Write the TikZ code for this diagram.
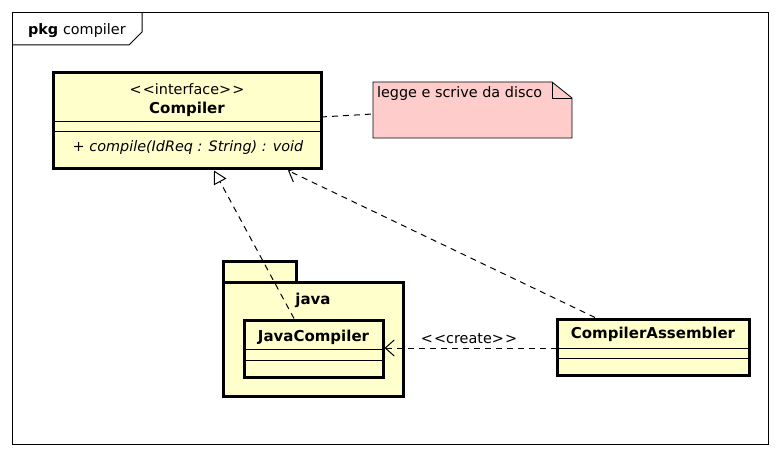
\documentclass[tikz,border=0pt]{standalone}
\usepackage{fontspec}
\setmainfont{DejaVu Sans}
\usetikzlibrary{arrows.meta}
\definecolor{classfill}{RGB}{255,255,204}
\definecolor{notefill}{RGB}{255,204,204}
\tikzset{
  classbox/.style={draw=black, line width=3pt, fill=classfill, inner sep=0pt, outer sep=0pt, anchor=north west},
  divider/.style={line width=1pt},
  txt/.style={inner sep=0pt, outer sep=0pt, anchor=base, font=\fontsize{14.4}{17}\selectfont},
  btxt/.style={txt, font=\fontsize{15}{18}\selectfont\bfseries},
  conn/.style={line width=1pt, dash pattern=on 6pt off 5pt},
  realize/.style={conn, -{Triangle[open, fill=white, length=13pt, width=14pt, line width=1pt]}},
  depend/.style={conn, -{Straight Barb[length=9pt, width=16pt, line width=1pt]}},
}
\begin{document}
\begin{tikzpicture}[x=1pt, y=-1pt]
\useasboundingbox (0,0) rectangle (782,457);
% frame
\draw[line width=1pt] (12,13) rectangle (768,444);
\draw[line width=1pt] (12,45) -- (129,45) -- (142,32) -- (142,13);
\node[txt, anchor=base west] (pkgkw) at (28,35) {\bfseries pkg};
\node[txt, anchor=base west] (pkgname) at (63,35) {compiler};

% Compiler interface
\node[classbox, minimum width=268pt, minimum height=96pt] (compiler) at (53,73) {};
\draw[divider] ([yshift=-49pt]compiler.north west) -- ([yshift=-49pt]compiler.north east);
\draw[divider] ([yshift=-59pt]compiler.north west) -- ([yshift=-59pt]compiler.north east);
\node[txt] (stereo) at (187,95) {{<}\kern1.2pt{<}interface{>}\kern1.2pt{>}};
\node[btxt] (compname) at (187,114) {Compiler};
\node[txt] (compop) at (188,152) {\itshape + compile(IdReq : String) : void};

% note
\node[inner sep=0pt, outer sep=0pt, minimum width=199pt, minimum height=56pt, anchor=north west] (note) at (373,82) {};
\coordinate (fold) at ([xshift=-20pt]note.north east);
\coordinate (foldb) at ([xshift=-20pt,yshift=-16pt]note.north east);
\coordinate (folde) at ([yshift=-16pt]note.north east);
\fill[notefill] (note.north west) -- (fold) -- (folde) -- (note.south east) -- (note.south west) -- cycle;
\draw[line width=0.8pt] (note.north west) -- (fold) -- (folde) -- (note.south east) -- (note.south west) -- cycle;
\draw[line width=0.8pt] (fold) -- (foldb) -- (folde);
\node[txt, anchor=base west] (notetext) at (377,98) {legge e scrive da disco};

% package java
\node[classbox, minimum width=73pt, minimum height=20pt] (javatab) at (223,262) {};
\node[classbox, minimum width=180pt, minimum height=114pt] (javapkg) at (223,282) {};
\node[btxt] (javalabel) at (313,305) {java};

% JavaCompiler
\node[classbox, minimum width=139pt, minimum height=57pt] (javacomp) at (244,320) {};
\draw[divider] ([yshift=-29pt]javacomp.north west) -- ([yshift=-29pt]javacomp.north east);
\draw[divider] ([yshift=-40pt]javacomp.north west) -- ([yshift=-40pt]javacomp.north east);
\node[btxt] (javacompname) at (313.5,341) {JavaCompiler};

% CompilerAssembler
\node[classbox, minimum width=192pt, minimum height=56pt] (assembler) at (557,319) {};
\draw[divider] ([yshift=-29pt]assembler.north west) -- ([yshift=-29pt]assembler.north east);
\draw[divider] ([yshift=-39pt]assembler.north west) -- ([yshift=-39pt]assembler.north east);
\node[btxt] (assemblername) at (653,338) {CompilerAssembler};

% connectors
\draw[conn] ([yshift=-44pt]compiler.north east) -- ([yshift=-32pt]note.north west);
\draw[realize] ([xshift=50pt,yshift=1.5pt]javacomp.north west) -- ([xshift=161pt,yshift=-1.5pt]compiler.south west);
\draw[depend] ([xshift=38pt,yshift=1.5pt]assembler.north west) -- ([xshift=235pt,yshift=-1.5pt]compiler.south west);
\draw[depend] ([yshift=-29pt]assembler.north west) -- ([yshift=-28pt,xshift=1.5pt]javacomp.north east);
\node[txt] (createlabel) at (469,343) {{<}\kern1.2pt{<}create{>}\kern1.2pt{>}};
\end{tikzpicture}
\end{document}
